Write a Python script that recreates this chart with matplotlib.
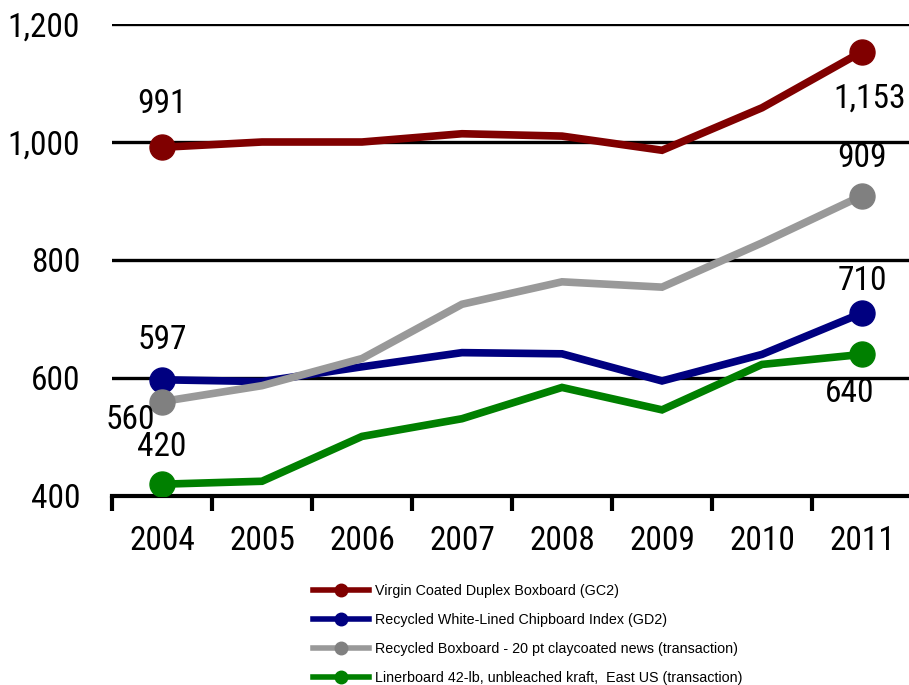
import matplotlib
matplotlib.use("Agg")
import matplotlib.pyplot as plt
from matplotlib.lines import Line2D
from matplotlib import font_manager

years = ["2004", "2005", "2006", "2007", "2008", "2009", "2010", "2011"]
gc2 = [991, 1000, 1000, 1014, 1010, 986, 1058, 1153]
gd2 = [597, 594, 619, 643, 641, 595, 640, 710]
recycled = [560, 587, 633, 725, 763, 754, 829, 909]
liner = [420, 425, 501, 531, 584, 546, 623, 640]
names = ["Virgin Coated Duplex Boxboard (GC2)",
         "Recycled White-Lined Chipboard Index (GD2)",
         "Recycled Boxboard - 20 pt claycoated news (transaction)",
         "Linerboard 42-lb, unbleached kraft,  East US (transaction)"]
line_colors = ["#800000", "#000080", "#999999", "#008000"]
marker_colors = ["#800000", "#000080", "#808080", "#008000"]
yticks = [400, 600, 800, 1000, 1200]
ytick_labels = ["400", "600", "800", "1,000", "1,200"]

avail = sorted({f.name for f in font_manager.fontManager.ttflist})
narrow = None
for pref in ["Liberation Sans Narrow", "Arial Narrow", "Roboto Condensed",
             "Open Sans Condensed"]:
    if pref in avail:
        narrow = pref
        break
if narrow is None:
    for n in avail:
        if ("Narrow" in n or "Condensed" in n) and "DejaVu" not in n:
            narrow = n
            break
main_font = narrow if narrow else "Liberation Sans"
big = 24 if narrow else 20.5
plt.rcParams['font.family'] = [main_font, 'DejaVu Sans']

fig = plt.figure(figsize=(9.09, 6.85), dpi=100)
ax = fig.add_axes([112/909, 1-496/685, 800/909, 472/685])

x = list(range(len(years)))
series = [gc2, gd2, recycled, liner]
for s, lc, mc in zip(series, line_colors, marker_colors):
    ax.plot(x, s, color=lc, lw=5.5, solid_joinstyle='miter', zorder=3)
    ax.plot([x[0], x[-1]], [s[0], s[-1]], ls='none', marker='o', ms=18,
            color=mc, zorder=4)

ax.set_xlim(-0.5, 7.5)
ax.set_ylim(400, 1200)
ax.set_yticks(yticks)
ax.set_yticklabels(ytick_labels)
for yv in yticks[1:]:
    ax.axhline(yv, color='black', lw=2.4, zorder=1)
for sp in ['top', 'right', 'left']:
    ax.spines[sp].set_visible(False)
ax.spines['bottom'].set_linewidth(3)
ax.spines['bottom'].set_zorder(2)
ax.tick_params(axis='y', length=0, pad=23, labelsize=big)
ax.set_xticks(x)
ax.set_xticklabels(years)
ax.tick_params(axis='x', length=0, pad=21, labelsize=big)
ax.set_xticks([i - 0.5 for i in range(len(years))], minor=True)
ax.tick_params(axis='x', which='minor', length=11, width=3, direction='out')

ann = [(0, 991, "991", 0, 43), (7, 1153, "1,153", 8, -47),
       (0, 597, "597", 0, 40), (0, 560, "560", -32, -18),
       (7, 909, "909", 0, 38), (7, 710, "710", 0, 32),
       (0, 420, "420", 0, 37), (7, 640, "640", -12, -39)]
for xi, yv, t, dx, dy in ann:
    ax.annotate(t, (xi, yv), xytext=(dx, dy), textcoords='offset pixels',
                ha='center', va='center', fontsize=big, zorder=5,
                annotation_clip=False)

handles = [Line2D([0], [0], color=lc, lw=4, marker='o', ms=9,
                  markerfacecolor=mc, markeredgecolor=mc)
           for lc, mc in zip(line_colors, marker_colors)]
fig.legend(handles, names, loc='upper left', bbox_to_anchor=(313/909, 1-584/685),
           frameon=False, prop={'family': ['Liberation Sans', 'DejaVu Sans'], 'size': 10.3},
           handlelength=3.9, handletextpad=0.45, labelspacing=1.04, borderaxespad=0,
           borderpad=0)

fig.savefig("out.png", dpi=100)
